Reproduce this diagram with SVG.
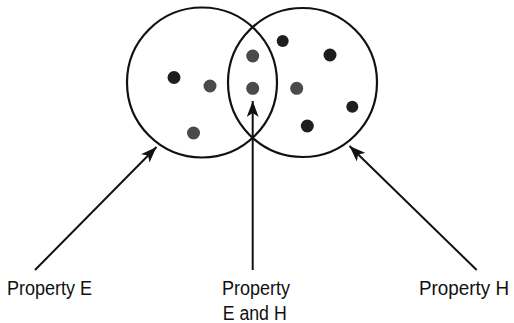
<svg xmlns="http://www.w3.org/2000/svg" width="514" height="323" viewBox="0 0 514 323">
<style>
.ring{fill:none;stroke:#111;stroke-width:2.2}
.dk{fill:#1e1e1e}
.gr{fill:#4a4a4a}
.conn{stroke:#111;stroke-width:2;fill:none}
.lbl{font-family:"Liberation Sans",Arial,sans-serif;font-size:19.5px;fill:#111}
</style>
<defs>
<marker id="ah" markerUnits="userSpaceOnUse" markerWidth="18" markerHeight="12" refX="16" refY="6" orient="auto">
<path d="M0,0 L16,6 L0,12 L4,6 z" fill="#111"/>
</marker>
</defs>
<rect width="514" height="323" fill="#fff"/>
<g id="circleE">
<circle class="ring" cx="202" cy="82.5" r="75"/>
<circle class="dk" cx="174" cy="77.5" r="6.5"/>
<circle class="gr" cx="210" cy="86" r="6.5"/>
<circle class="gr" cx="193.5" cy="133" r="6.5"/>
</g>
<g id="circleH">
<circle class="ring" cx="302.5" cy="82.5" r="74.5"/>
<circle class="dk" cx="282.7" cy="41" r="6"/>
<circle class="dk" cx="330" cy="55" r="6.5"/>
<circle class="gr" cx="296.7" cy="88.3" r="6.5"/>
<circle class="dk" cx="352.3" cy="106.7" r="6"/>
<circle class="dk" cx="307.3" cy="126" r="6.5"/>
</g>
<g id="intersection">
<circle class="gr" cx="252.7" cy="56" r="6.5"/>
<circle class="gr" cx="252.7" cy="88.3" r="6.5"/>
</g>
<g id="connectors">
<line class="conn" x1="35" y1="270" x2="156.5" y2="147" marker-end="url(#ah)"/>
<line class="conn" x1="252.7" y1="270" x2="252.7" y2="101" marker-end="url(#ah)"/>
<line class="conn" x1="476.7" y1="270" x2="349.5" y2="146" marker-end="url(#ah)"/>
</g>
<g id="labelE">
<text class="lbl" x="7" y="295" textLength="85" lengthAdjust="spacingAndGlyphs">Property E</text>
</g>
<g id="labelEH">
<text class="lbl" x="222" y="295" textLength="68" lengthAdjust="spacingAndGlyphs">Property</text>
<text class="lbl" x="222.7" y="319.5" textLength="64" lengthAdjust="spacingAndGlyphs">E and H</text>
</g>
<g id="labelH">
<text class="lbl" x="419" y="295" textLength="90" lengthAdjust="spacingAndGlyphs">Property H</text>
</g>
</svg>
